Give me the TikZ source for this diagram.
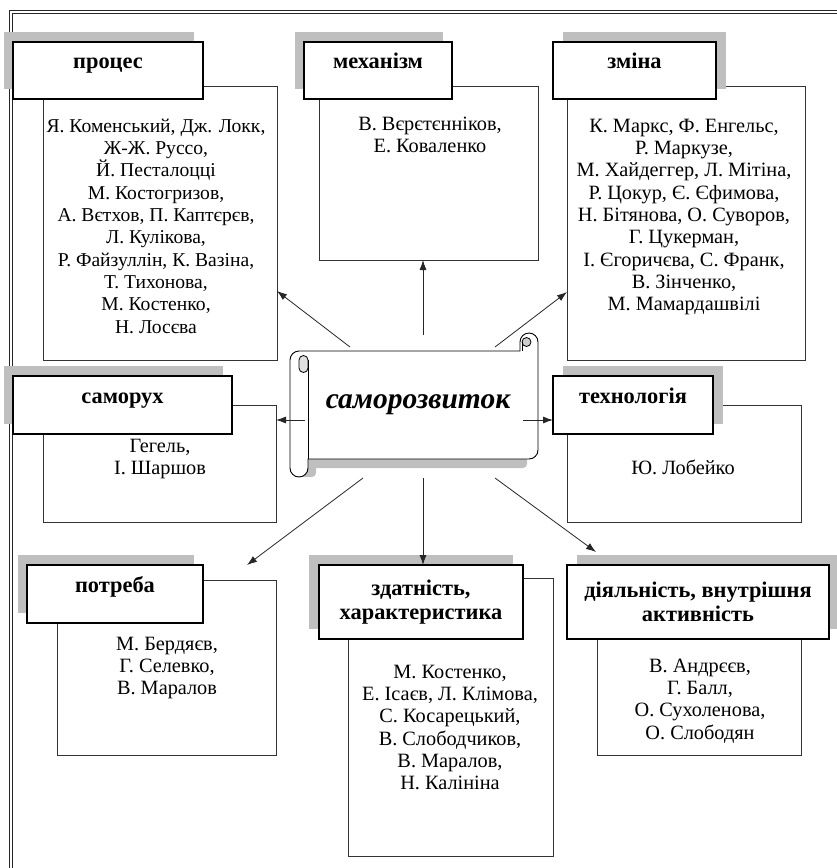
\documentclass[tikz,border=0pt]{standalone}
\usepackage{fontspec}
\setmainfont{Liberation Serif}
\usetikzlibrary{arrows.meta,shadows,calc}
\begin{document}
\begin{tikzpicture}[x=1pt,y=-1pt,
  cbox/.style={draw=black!80, line width=0.7pt, fill=white, inner sep=0pt, outer sep=0pt},
  hbox/.style={draw=black, line width=1.1pt, fill=white, inner sep=0pt, outer sep=0pt, align=center,
               font=\fontsize{22.4}{24}\selectfont\bfseries},
  hsingle/.style={text height=10pt, text depth=14pt},
  shL/.style={drop shadow={shadow xshift=-9pt, shadow yshift=10pt, fill=black!25, opacity=1}},
  shR/.style={drop shadow={shadow xshift=10pt, shadow yshift=10pt, fill=black!25, opacity=1}},
  names/.style={font=\fontsize{20.3}{22.3}\selectfont, align=center, inner sep=0pt, anchor=north},
  arr/.style={draw=black!85, line width=0.8pt, -{Latex[length=10pt,width=7pt]}},
  frame/.style={draw=black!85, line width=1pt},
  shade/.style={fill=black!25}
]
\useasboundingbox (0,0) rectangle (837,868);
% outer frame (double line, left and top)
\draw[frame] (9,868) -- (9,10) -- (837,10);
\draw[frame] (12.5,868) -- (12.5,13.5) -- (837,13.5);

% ---- процес
\node[cbox, minimum width=234pt, minimum height=274pt] (pbox) at (160,223) {};
\node[hbox, hsingle, shL, minimum width=190pt, minimum height=57pt] (phead) at (108,70.5) {процес};
\node[names, font=\fontsize{19.6}{22.3}\selectfont] (ptext) at (156,116.5) {\strut Я. Коменський, Дж. Локк,\\ Ж-Ж. Руссо,\\ Й. Песталоцці\\ М. Костогризов,\\ А. Вєтхов, П. Каптєрєв,\\ Л. Кулікова,\\ Р. Файзуллін, К. Вазіна,\\ Т. Тихонова,\\ М. Костенко,\\ Н. Лосєва};

% ---- механізм
\node[cbox, minimum width=219pt, minimum height=174pt] (mbox) at (428.5,173) {};
\node[hbox, hsingle, shL, minimum width=148pt, minimum height=57pt] (mhead) at (378,70.5) {механізм};
\node[names] (mtext) at (430,114.5) {\strut В. Вєрєтєнніков,\\ Е. Коваленко};

% ---- зміна
\node[cbox, minimum width=238pt, minimum height=274pt] (zbox) at (686,223) {};
\node[hbox, hsingle, shR, minimum width=163pt, minimum height=57pt] (zhead) at (634.5,70.5) {зміна};
\node[names] (ztext) at (684,116.5) {\strut К. Маркс, Ф. Енгельс,\\ Р. Маркузе,\\ М. Хайдеггер, Л. Мітіна,\\ Р. Цокур, Є. Єфимова,\\ Н. Бітянова, О. Суворов,\\ Г. Цукерман,\\ І. Єгоричєва, С. Франк,\\ В. Зінченко,\\ М. Мамардашвілі};

% ---- саморух
\node[cbox, minimum width=233pt, minimum height=117pt] (sbox) at (159.5,463.5) {};
\node[hbox, hsingle, shL, minimum width=219pt, minimum height=58pt] (shead) at (122.5,405) {саморух};
\node[names] (stext) at (160,436.5) {\strut Гегель,\\ І. Шаршов};

% ---- технологія
\node[cbox, minimum width=234pt, minimum height=117pt] (tbox) at (684,463.5) {};
\node[hbox, hsingle, shR, minimum width=160pt, minimum height=58pt] (thead) at (633,405) {технологія};
\node[names] (ttext) at (683,458.5) {\strut Ю. Лобейко};

% ---- потреба
\node[cbox, minimum width=219pt, minimum height=175pt] (nbox) at (166.5,667.5) {};
\node[hbox, hsingle, shL, minimum width=176pt, minimum height=58pt] (nhead) at (115,594) {потреба};
\node[names] (ntext) at (167,634.5) {\strut М. Бердяєв,\\ Г. Селевко,\\ В. Маралов};

% ---- здатність, характеристика
\node[cbox, minimum width=205pt, minimum height=278pt] (dbox) at (450.5,717) {};
\node[hbox, drop shadow={shadow xshift=-10pt, shadow yshift=10pt, fill=black!25, opacity=1},
      minimum width=204pt, minimum height=74pt] (dhead) at (421,602) {здатність,\\ характеристика};
\node[names] (dtext) at (450,662.5) {\strut М. Костенко,\\ Е. Ісаєв, Л. Клімова,\\ С. Косарецький,\\ В. Слободчиков,\\ В. Маралов,\\ Н. Калініна};

% ---- діяльність, внутрішня активність
\node[cbox, minimum width=204pt, minimum height=175pt] (abox) at (699,667.5) {};
\node[hbox, shR, minimum width=262pt, minimum height=74pt] (ahead) at (698,602) {діяльність, внутрішня\\ активність};
\node[names] (atext) at (700,656.5) {\strut В. Андрєєв,\\ Г. Балл,\\ О. Сухоленова,\\ О. Слободян};

% ---- scroll
\fill[shade, rounded corners=4pt] (300,452) rectangle (527,468);
\fill[shade, rounded corners=4pt] (300,452) rectangle (316,477);
\draw[line width=0.9pt, fill=white] (290,360) arc[start angle=180, end angle=90, radius=9pt]
  -- (520,351) -- (520,342) arc[start angle=180, end angle=0, radius=9pt]
  -- (538,450) arc[start angle=0, end angle=-90, radius=9pt]
  -- (308,459) -- (308,468) arc[start angle=0, end angle=-180, radius=9pt] -- cycle;
% left curl
\draw[line width=0.8pt, fill=black!12] (299,368) -- (299,360) arc[start angle=180, end angle=0, radius=4.5pt]
  -- (308,368) arc[start angle=0, end angle=-180, radius=4.5pt] -- cycle;
\draw[line width=0.8pt] (308,360) -- (308,459);
% right curl
\draw[line width=0.8pt, fill=black!20] (526.5,342) circle[radius=4.5pt];
\draw[line width=0.8pt] (522,342) -- (522,351);
\node[font=\fontsize{29.5}{36}\selectfont\bfseries\itshape, inner sep=0pt, anchor=base] (title) at (418,408) {саморозвиток};

% ---- connectors
\coordinate (s1) at (350,347);
\coordinate (s2) at (423,335);
\coordinate (s3) at (495,347);
\coordinate (s4) at (305,420);
\coordinate (s5) at (523,420);
\coordinate (s6) at (363,478);
\coordinate (s7) at (423,478);
\coordinate (s8) at (495,478);
\coordinate (t6) at (247,565);
\coordinate (t8) at (596,552);
\draw[arr] (s1) -- ([yshift=-68pt]pbox.east);
\draw[arr] (s2) -- (s2 |- mbox.south);
\draw[arr] (s3) -- ([yshift=-69pt]zbox.west);
\draw[arr] (s4) -- (s4 -| sbox.east);
\draw[arr] (s5) -- (s5 -| thead.west);
\draw[arr] (s6) -- (t6);
\draw[arr] (s7) -- (s7 |- dhead.north);
\draw[arr] (s8) -- (t8);
\end{tikzpicture}
\end{document}
